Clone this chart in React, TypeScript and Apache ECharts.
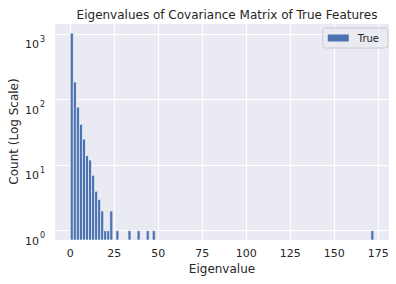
import React, { useEffect, useRef } from "react";
import * as echarts from "echarts";

// Histogram of eigenvalues (100 bins over [0, 172.5]); only non-empty bins listed
const BIN_WIDTH = 1.725;
const binStarts = [0, 1.725, 3.45, 5.175, 6.9, 8.625, 10.35, 12.075, 13.8, 15.525, 17.25, 18.975, 20.7, 22.425, 25.875, 32.775, 37.95, 43.125, 46.575, 170.775];
const counts = [1040, 186, 77, 42, 25, 14, 12, 7, 4, 3, 2, 1, 1, 2, 1, 1, 1, 1, 1, 1];
const xTicks = [0, 25, 50, 75, 100, 125, 150, 175];
const seriesName = "True";

const X_MIN = -8.7;
const X_MAX = 181.1;
const Y_MIN = 0.72;
const Y_MAX = 1483;

const TEXT = "#262626";
const BAR = "#4c72b0";
const FONT = "DejaVu Sans";

export default function App() {
  const ref = useRef<HTMLDivElement>(null);
  useEffect(() => {
    if (!ref.current) return;
    const chart = echarts.init(ref.current, null, { renderer: "svg" });
    const data = binStarts.map((s, i) => [s, counts[i]]);
    chart.setOption({
      animation: false,
      textStyle: { fontFamily: FONT, color: TEXT },
      title: {
        text: "Eigenvalues of Covariance Matrix of True Features",
        left: 222,
        textAlign: "center",
        top: 4,
        textStyle: { fontFamily: FONT, fontSize: 12, fontWeight: "normal", color: TEXT },
      },
      legend: {
        data: [{ name: seriesName, icon: "rect" }],
        right: 8,
        top: 28,
        orient: "vertical",
        itemWidth: 21,
        itemHeight: 7,
        padding: [4, 9, 4, 5],
        backgroundColor: "rgba(234,234,242,0.8)",
        borderColor: "#cccccc",
        borderWidth: 1,
        borderRadius: 3,
        textStyle: { fontFamily: FONT, fontSize: 10, color: TEXT, lineHeight: 12, padding: [0, 0, 0, 4] },
      },
      grid: {
        left: 55,
        right: 7,
        top: 23,
        bottom: 44,
        show: true,
        backgroundColor: "#eaeaf2",
        borderWidth: 0,
        containLabel: false,
        outerBoundsMode: "none",
      },
      xAxis: {
        type: "value",
        min: X_MIN,
        max: X_MAX,
        name: "Eigenvalue",
        nameLocation: "middle",
        nameGap: 23,
        nameMoveOverlap: false,
        nameTextStyle: { fontFamily: FONT, fontSize: 12, color: TEXT },
        axisLine: { show: false },
        axisTick: { show: false, customValues: xTicks },
        axisLabel: { customValues: xTicks, fontFamily: FONT, fontSize: 11, color: TEXT, margin: 8 },
        splitLine: { show: true, lineStyle: { color: "#ffffff", width: 1 } },
      },
      yAxis: {
        type: "log",
        logBase: 10,
        min: Y_MIN,
        max: Y_MAX,
        name: "Count (Log Scale)",
        nameLocation: "middle",
        nameGap: 35,
        nameMoveOverlap: false,
        nameTextStyle: { fontFamily: FONT, fontSize: 12, color: TEXT },
        axisLine: { show: false },
        axisTick: { show: false },
        axisLabel: {
          showMinLabel: false,
          showMaxLabel: false,
          margin: 10,
          formatter: (v: number) => `{b|10}{sup|${Math.round(Math.log10(v))}}`,
          rich: {
            b: { fontFamily: FONT, fontSize: 11, color: TEXT, lineHeight: 6, padding: [8, 0, 0, 0], verticalAlign: "top" },
            sup: { fontFamily: FONT, fontSize: 8, color: TEXT, lineHeight: 6, padding: [4, 0, 0, 1], verticalAlign: "top" },
          },
        },
        splitLine: { show: true, lineStyle: { color: "#ffffff", width: 1 } },
      },
      series: [
        {
          name: seriesName,
          type: "custom",
          itemStyle: { color: BAR },
          clip: true,
          data,
          encode: { x: 0, y: 1 },
          renderItem: (params: any, api: any) => {
            const x0 = api.value(0);
            const c = api.value(1);
            const pTop = api.coord([x0, c]);
            const pBot = api.coord([x0 + BIN_WIDTH, Y_MIN]);
            return {
              type: "rect",
              shape: { x: pTop[0], y: pTop[1], width: pBot[0] - pTop[0], height: pBot[1] - pTop[1] },
              style: { fill: BAR, stroke: "#ffffff", lineWidth: 0.6 },
            };
          },
        },
      ],
    });
    return () => chart.dispose();
  }, []);
  return <div ref={ref} style={{ position: "absolute", left: 0, top: 0, width: 396, height: 284 }} />;
}
